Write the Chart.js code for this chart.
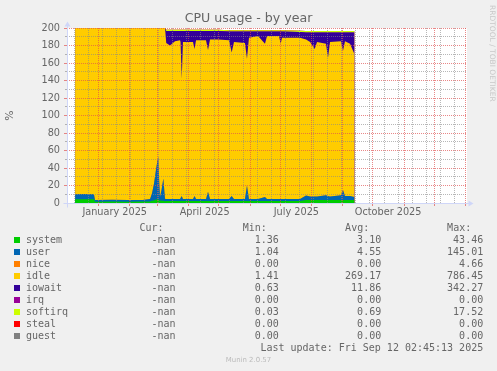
<!DOCTYPE html>
<html><head><meta charset="utf-8">
<script src="https://cdn.jsdelivr.net/npm/chart.js@4.4.1/dist/chart.umd.min.js"></script>
<style>
html,body{margin:0;padding:0;background:#f0f0f0;}
#wrap{position:relative;width:497px;height:371px;overflow:hidden;background:#f0f0f0;}
#c{position:absolute;left:0;top:0;}
.t{position:absolute;font-family:"DejaVu Sans Mono",monospace;font-size:10px;line-height:12px;color:#666;white-space:pre;}
.sw{position:absolute;width:6px;height:6px;}
#wm{position:absolute;left:0;width:497px;top:356.3px;text-align:center;font-family:"DejaVu Sans",sans-serif;font-size:6.94px;line-height:8px;color:#bbb;}
#credit{position:absolute;left:488px;top:5px;writing-mode:vertical-rl;font-family:"DejaVu Sans",sans-serif;font-size:7.5px;line-height:9px;color:#c8c8c8;white-space:nowrap;}
</style></head><body>
<div id="wrap"><canvas id="c" width="497" height="371"></canvas></div>
<script>
// x values: days since 2024-12-01
const days = [8,17,26.8,27.8,45,60,75,82.5,84.4,86.4,88.4,89.9,90.7,91.4,92.4,93.9,95.7,97.4,98.2,98.6,102.3,107.3,112.3,112.8,114.0,115.2,117.2,125.2,126.7,128.2,138.1,140.1,142.1,150,161.0,163.6,165.9,176.8,178.8,180.8,189.8,196.7,198.7,210.6,212.3,213.6,231.5,237.5,241.5,246.1,248.4,257.3,259.3,261.3,272.2,274.2,276.2,281.2,285.6];
const system = [4.2,4.3,4.2,1.5,1.6,1.5,1.6,1.8,2.5,3,4,4,4,4,3,2.5,2.5,2,2,2.3,2.3,2.3,2.3,2.3,2.3,2.3,2.3,2.3,2.3,2.3,2.3,2.3,2.3,2.3,2.3,2.3,2.3,2.3,2.3,2.3,2.3,2.3,2.3,2.3,2.3,2.3,2.3,3.4,3.4,3.4,3.4,3.4,3.4,3.4,3.4,3.4,3.4,3.4,3.4];
const user = [5.8,6.1,5.8,1.9,2.0,1.8,1.9,2.7,8.5,19,34,45,49,26,4,12.5,25.5,3,2.6,2.3,2.3,2.3,2.3,2.3,5.7,2.3,2.3,2.3,5.7,2.3,2.3,10.7,2.3,2.3,2.3,5.7,2.3,2.3,17.7,2.3,2.3,4.7,2.3,2.3,2.3,2.3,2.3,5.1,4.1,4.1,4.1,5.6,4.6,4.1,5.6,11.6,4.6,4.6,3.6];
const nice = [0,0,0,0,0,0,0,0,0,0,0,0,0,0,0,0,0,0,0,0,0,0,0,0,0,0,0,0,0,0,0,0,0,0,0,0,0,0,0,0,0,0,0,0,0,0,0,0,0,0,0,0,0,0,0,0,0,0,0];
const idle = [190,189.6,190,196.6,196.4,196.7,196.5,195.5,189,178,162,151,147,170,193,185,172,195,195.4,178.4,175.4,180.4,181.4,179.4,134,179.4,179.4,179.4,168,181.4,181.4,162,182.4,182.4,181.4,164,179.4,178.4,145,184.4,186.4,175,186.4,186.4,177.4,184.4,184.4,178.5,176.5,168.5,176.5,173,158,176.5,176,159,177,174,163];
const iowait = [0,0,0,0,0,0,0,0,0,0,0,0,0,0,0,0,0,0,0,13.5,16.5,11.5,10.5,12.5,54.5,12.5,12.5,12.5,20.5,10.5,10.5,21.5,9.5,9.5,10,24,12,13,31,7,5,14,5,5,14,7,6.5,8,11,19,11,13,29,11,10,21,10,13,25];
const irq = [0,0,0,0,0,0,0,0,0,0,0,0,0,0,0,0,0,0,0,0,0,0,0,0,0,0,0,0,0,0,0,0,0,0,0,0,0,0,0,0,0,0,0,0,0,0,0,0,0,0,0,0,0,0,0,0,0,0,0];
const softirq = [0,0,0,0,0,0,0,0,0,0,0,0,0,0,0,0,0,0,0,1.5,1.5,1.5,1.5,1.5,1.5,1.5,1.5,1.5,1.5,1.5,1.5,1.5,1.5,1.5,1.5,1.5,1.5,1.5,1.5,1.5,1.5,1.5,1.5,1.5,1.5,1.5,1.5,1.5,1.5,1.5,1.5,1.5,1.5,1.5,1.5,1.5,1.5,1.5,1.5];
const steal = [0,0,0,0,0,0,0,0,0,0,0,0,0,0,0,0,0,0,0,0,0,0,0,0,0,0,0,0,0,0,0,0,0,0,0,0,0,0,0,0,0,0,0,0,0,0,0,0,0,0,0,0,0,0,0,0,0,0,0];
const guest = [0,0,0,0,0,0,0,0,0,0,0,0,0,0,0,0,0,0,0,0,0,0,0,0,0,0,0,0,0,0,0,0,0,0,0,0,0,0,0,0,0,0,0,0,0,0,0,0,0,0,0,0,0,0,0,0,0,0,0];

// axis / grid (days since 2024-12-01)
const monthStartDays = [0,31,62,90,121,151,182,212,243,274,304,335,365,396];
const gridWeekDays = [7,21,35,49,63,77,91,105,119,133,147,161,175,189,203,217,231,245,259,273,287,301,315,329,343,357,371,385];
const xLabelDays = [47.4,136.8,227.9,319];
const xLabels = ['January 2025','April 2025','July 2025','October 2025'];
const yMajorTicks = [0,20,40,60,80,100,120,140,160,180,200];
const yMinorTicks = [10,30,50,70,90,110,130,150,170,190];

// legend table
const seriesNames = ['system','user','nice','idle','iowait','irq','softirq','steal','guest'];
const seriesColors = ['#00CC00','#0066B3','#FF8000','#FFCC00','#330099','#990099','#CCFF00','#FF0000','#808080'];
const curVals = ['-nan','-nan','-nan','-nan','-nan','-nan','-nan','-nan','-nan'];
const minVals = ['1.36','1.04','0.00','1.41','0.63','0.00','0.03','0.00','0.00'];
const avgVals = ['3.10','4.55','0.00','269.17','11.86','0.00','0.69','0.00','0.00'];
const maxVals = ['43.46','145.01','4.66','786.45','342.27','0.00','17.52','0.00','0.00'];
const lastUpdate = 'Last update: Fri Sep 12 02:45:13 2025';

const seriesData = [system,user,nice,idle,iowait,irq,softirq,steal,guest];
const datasets = seriesNames.map((n,i)=>({
  label:n,
  data: days.map((d,k)=>({x:d,y:seriesData[i][k]})),
  backgroundColor: seriesColors[i],
  borderColor: 'rgba(0,0,0,0)',
  borderWidth: 0,
  pointRadius: 0,
  tension: 0,
  fill: 'origin'
}));

const MGRID = 'rgba(222,79,79,0.68)';
const GRID = 'rgba(135,135,135,0.6)';
const AXIS = '#CFD6F8';

const frame = {
  id:'frame',
  beforeDraw(chart){
    const {ctx, chartArea:a} = chart;
    ctx.save(); ctx.fillStyle='#ffffff';
    ctx.fillRect(a.left, a.top, a.right-a.left, a.bottom-a.top);
    ctx.restore();
  },
  afterDatasetsDraw(chart){
    const {ctx, chartArea:a, scales:{x, y}} = chart;
    const al = p => Math.round(p - 0.5) + 0.5;
    const L = Math.round(a.left), R = Math.round(a.right), T = Math.round(a.top), B = Math.round(a.bottom);
    ctx.save();
    ctx.lineWidth = 1;
    // minor grid (dotted)
    ctx.setLineDash([1,1]);
    ctx.strokeStyle = GRID;
    ctx.beginPath();
    gridWeekDays.forEach(d => { const px = al(x.getPixelForValue(d)); ctx.moveTo(px, T); ctx.lineTo(px, B); });
    yMinorTicks.forEach(v => { const py = al(y.getPixelForValue(v)); ctx.moveTo(L, py); ctx.lineTo(R, py); });
    ctx.stroke();
    // major grid (dotted)
    ctx.strokeStyle = MGRID;
    ctx.beginPath();
    monthStartDays.forEach(d => { const px = al(x.getPixelForValue(d)); ctx.moveTo(px, T); ctx.lineTo(px, B); });
    yMajorTicks.forEach(v => { const py = al(y.getPixelForValue(v)); ctx.moveTo(L, py); ctx.lineTo(R, py); });
    ctx.stroke();
    // tick marks
    ctx.setLineDash([]);
    ctx.strokeStyle = GRID;
    ctx.beginPath();
    yMinorTicks.forEach(v => { const py = al(y.getPixelForValue(v)); ctx.moveTo(L-2, py); ctx.lineTo(L, py); });
    ctx.stroke();
    ctx.strokeStyle = MGRID;
    ctx.beginPath();
    yMajorTicks.forEach(v => { const py = al(y.getPixelForValue(v)); ctx.moveTo(L-3, py); ctx.lineTo(L, py); });
    monthStartDays.forEach(d => { const px = al(x.getPixelForValue(d)); ctx.moveTo(px, B); ctx.lineTo(px, B+3); });
    ctx.stroke();
    ctx.restore();
  },
  afterDraw(chart){
    const {ctx, chartArea:a} = chart;
    const ax = Math.round(a.left) + 0.5, ay = Math.round(a.bottom) + 0.5;
    const R = Math.round(a.right), T = Math.round(a.top);
    ctx.save();
    ctx.strokeStyle = AXIS; ctx.fillStyle = AXIS; ctx.lineWidth = 1;
    ctx.beginPath();
    ctx.moveTo(ax-4, ay); ctx.lineTo(R+3, ay);
    ctx.moveTo(ax, ay+4); ctx.lineTo(ax, T-3);
    ctx.stroke();
    ctx.beginPath();
    ctx.moveTo(R+1.5, ay-3); ctx.lineTo(R+1.5, ay+3); ctx.lineTo(R+6.5, ay); ctx.closePath(); ctx.fill();
    ctx.beginPath();
    ctx.moveTo(ax-3, T-1.5); ctx.lineTo(ax+3, T-1.5); ctx.lineTo(ax, T-6.5); ctx.closePath(); ctx.fill();
    ctx.restore();
  }
};

const noGrid = { display:false, drawTicks:false, tickLength:0 };

new Chart(document.getElementById('c'), {
  type:'line',
  data:{ datasets },
  plugins:[frame],
  options:{
    responsive:false, animation:false, devicePixelRatio:1,
    layout:{ padding:0 },
    plugins:{
      legend:{ display:false },
      tooltip:{ enabled:false },
      title:{ display:true, text:'CPU usage - by year', color:'#666',
        font:{ family:'DejaVu Sans', size:12.6, weight:'normal', lineHeight:1.2 },
        padding:{ top:11.4, bottom:1.5 } },
      filler:{ propagate:false }
    },
    scales:{
      x:{
        type:'linear', min:0, max:397.4,
        afterBuildTicks: s => { s.ticks = xLabelDays.map(v=>({value:v})); },
        afterFit: s => { s.height = 168; },
        ticks:{ autoSkip:false, maxRotation:0, minRotation:0, padding:4, color:'#666',
          font:{ family:'DejaVu Sans', size:9.72 },
          callback: v => { const i = xLabelDays.findIndex(d=>Math.abs(d-v)<1e-6); return i>=0 ? xLabels[i] : ''; } },
        grid: noGrid,
        border:{ display:false }
      },
      y:{
        type:'linear', min:0, max:200, stacked:true,
        afterFit: s => { s.width = 67; },
        afterBuildTicks: s => { s.ticks = yMajorTicks.map(v=>({value:v})); },
        ticks:{ autoSkip:false, padding:7, color:'#666',
          font:{ family:'DejaVu Sans', size:9.72 } },
        grid: noGrid,
        border:{ display:false },
        title:{ display:true, text:'%', color:'#666', font:{ family:'DejaVu Sans', size:10.8 }, padding:{ top:3.8, bottom:0 } }
      },
      yRight:{
        type:'linear', position:'right', display:true,
        afterFit: s => { s.width = 30; },
        ticks:{ display:false },
        grid: noGrid,
        border:{ display:false }
      }
    }
  }
});

// legend
const wrap = document.getElementById('wrap');
function addText(txt, opts){
  const d = document.createElement('div');
  d.className = 't'; d.textContent = txt;
  if (opts.left !== undefined) d.style.left = opts.left + 'px';
  if (opts.right !== undefined) { d.style.right = (497 - opts.right) + 'px'; d.style.textAlign = 'right'; }
  d.style.top = opts.top + 'px';
  wrap.appendChild(d);
}
const colRight = [175.5, 278.8, 381.2, 483.2];
const headers = ['Cur:','Min:','Avg:','Max:'];
headers.forEach((h,j)=>addText(h,{right:colRight[j]-12, top:222}));
seriesNames.forEach((n,i)=>{
  const top = 234 + 12*i;
  const sw = document.createElement('div');
  sw.className = 'sw'; sw.style.left = '14px'; sw.style.top = (237 + 12*i) + 'px';
  sw.style.background = seriesColors[i];
  wrap.appendChild(sw);
  addText(n,{left:26, top});
  [curVals,minVals,avgVals,maxVals].forEach((arr,j)=>addText(arr[i],{right:colRight[j], top}));
});
addText(lastUpdate,{right:colRight[3], top:342});
const wm = document.createElement('div'); wm.id='wm'; wm.textContent='Munin 2.0.57'; wrap.appendChild(wm);
const cr = document.createElement('div'); cr.id='credit'; cr.textContent='RRDTOOL / TOBI OETIKER'; wrap.appendChild(cr);
</script>
</body></html>
